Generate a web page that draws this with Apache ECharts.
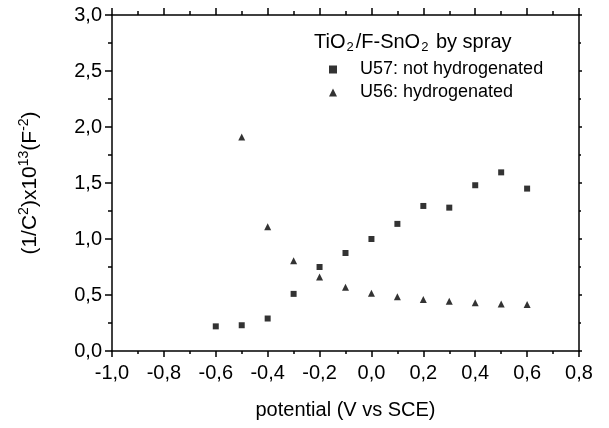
<!DOCTYPE html>
<html>
<head>
<meta charset="utf-8">
<script src="https://cdn.jsdelivr.net/npm/echarts@6/dist/echarts.min.js"></script>
<style>
  html, body { margin: 0; padding: 0; background: #fff; }
  #main { width: 609px; height: 428px; }
</style>
</head>
<body>
<div id="main"></div>
<script>
// potentiel (V vs SCE)
var potU57 = [-0.6, -0.5, -0.4, -0.3, -0.2, -0.1, 0.0, 0.1, 0.2, 0.3, 0.4, 0.5, 0.6];
var valU57 = [0.22, 0.23, 0.29, 0.51, 0.75, 0.875, 1.0, 1.135, 1.295, 1.28, 1.48, 1.595, 1.45];
var potU56 = [-0.5, -0.4, -0.3, -0.2, -0.1, 0.0, 0.1, 0.2, 0.3, 0.4, 0.5, 0.6];
var valU56 = [1.91, 1.11, 0.805, 0.66, 0.57, 0.515, 0.485, 0.46, 0.445, 0.43, 0.42, 0.415];

var nameU57 = 'U57: not hydrogenated';
var nameU56 = 'U56: hydrogenated';

function pairs(xs, ys) {
    var out = [];
    for (var i = 0; i < xs.length; i++) {
        out.push([xs[i], ys[i]]);
    }
    return out;
}

// virgule decimale comme dans Origin
function comma(v) {
    return v.toFixed(1).replace('.', ',').replace('-0,0', '0,0');
}

var fontName = 'Liberation Sans';
var lineStyle = {color: '#000', width: 1.5};

var myChart = echarts.init(document.getElementById('main'));
var option = {
    backgroundColor: '#fff',
    animation: false,
    textStyle: {fontFamily: fontName, color: '#000'},
    grid: {left: 112, right: 30, top: 15, bottom: 77},
    xAxis: [
        {
            type: 'value', position: 'bottom',
            min: -1.0, max: 0.8, interval: 0.2,
            name: 'potential (V vs SCE)',
            nameLocation: 'middle', nameGap: 49,
            nameTextStyle: {fontSize: 20, fontFamily: fontName, color: '#000'},
            axisLine: {onZero: false, lineStyle: lineStyle},
            axisTick: {length: 6, lineStyle: lineStyle},
            minorTick: {show: true, splitNumber: 2, length: 3, lineStyle: lineStyle},
            axisLabel: {fontSize: 20, color: '#000', margin: 12, formatter: comma},
            splitLine: {show: false}
        },
        {
            type: 'value', position: 'top',
            min: -1.0, max: 0.8, interval: 0.2,
            axisLine: {onZero: false, lineStyle: lineStyle},
            axisTick: {length: 7, lineStyle: lineStyle},
            minorTick: {show: true, splitNumber: 2, length: 4, lineStyle: lineStyle},
            axisLabel: {show: false},
            splitLine: {show: false}
        }
    ],
    yAxis: [
        {
            type: 'value', position: 'left',
            min: 0, max: 3.0, interval: 0.5,
            name: '(1/C{sup|2})x10{sup|13}(F{sup|-2})',
            nameLocation: 'middle', nameGap: 68,
            nameTextStyle: {
                fontSize: 21, fontFamily: fontName, color: '#000', lineHeight: 27,
                rich: {sup: {fontSize: 14, fontFamily: fontName, verticalAlign: 'top', lineHeight: 14}}
            },
            axisLine: {onZero: false, lineStyle: lineStyle},
            axisTick: {length: 7, lineStyle: lineStyle},
            minorTick: {show: true, splitNumber: 2, length: 4, lineStyle: lineStyle},
            axisLabel: {fontSize: 20, color: '#000', margin: 10, formatter: comma},
            splitLine: {show: false}
        },
        {
            type: 'value', position: 'right',
            min: 0, max: 3.0, interval: 0.5,
            axisLine: {onZero: false, lineStyle: lineStyle},
            axisTick: {length: 3, lineStyle: lineStyle},
            minorTick: {show: true, splitNumber: 2, length: 2, lineStyle: lineStyle},
            axisLabel: {show: false},
            splitLine: {show: false}
        }
    ],
    legend: {
        orient: 'vertical',
        left: 324, top: 55,
        itemWidth: 8, itemHeight: 8, itemGap: 4,
        textStyle: {fontSize: 18, fontFamily: fontName, color: '#000', lineHeight: 19, padding: [0, 0, 0, 18]},
        data: [
            {name: nameU57, icon: 'rect'},
            {name: nameU56, icon: 'triangle'}
        ]
    },
    graphic: [
        {
            type: 'text', left: 314, top: 31,
            style: {
                text: 'TiO{sub|2}/F-SnO{sub|2} by spray',
                fontSize: 20, fontFamily: fontName, fill: '#000', lineHeight: 23,
                rich: {sub: {fontSize: 13, fontFamily: fontName, verticalAlign: 'bottom', lineHeight: 13, padding: [0, 2, 0, 1]}}
            }
        }
    ],
    series: [
        {
            name: nameU57, type: 'scatter',
            symbol: 'rect', symbolSize: 6,
            itemStyle: {color: '#000'},
            data: pairs(potU57, valU57)
        },
        {
            name: nameU56, type: 'scatter',
            symbol: 'triangle', symbolSize: 7,
            itemStyle: {color: '#000'},
            data: pairs(potU56, valU56)
        }
    ]
};
myChart.setOption(option);
</script>
</body>
</html>
